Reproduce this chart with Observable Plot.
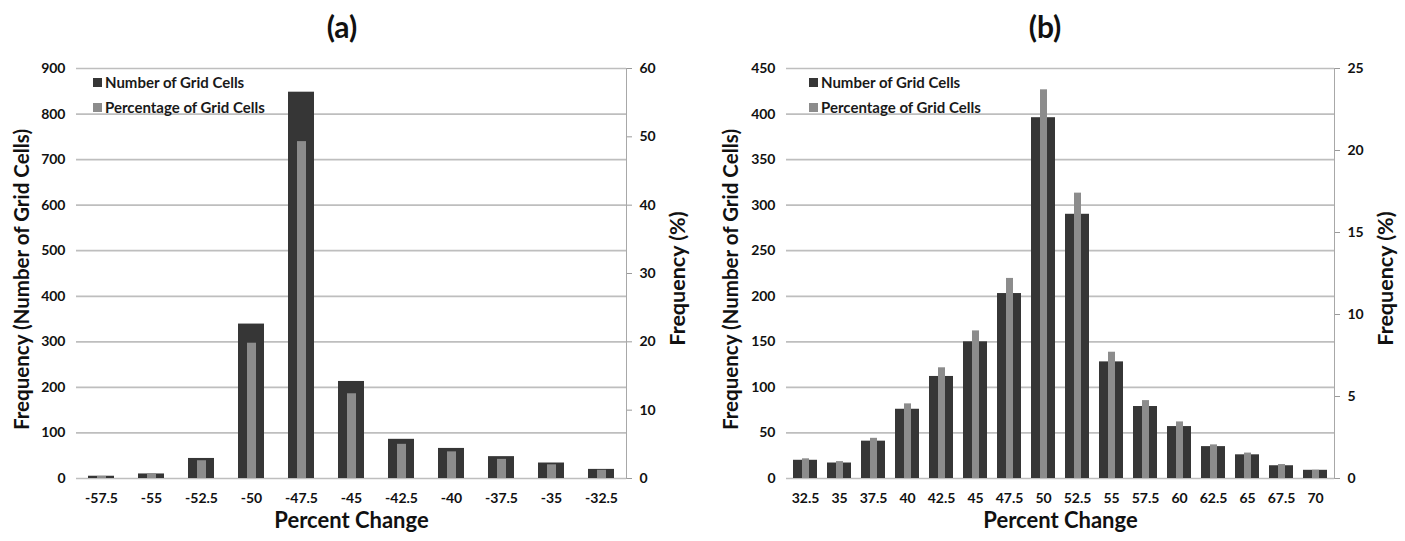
<!DOCTYPE html>
<html><head><meta charset="utf-8">
<script src="https://cdn.jsdelivr.net/npm/d3@7"></script>
<script src="https://cdn.jsdelivr.net/npm/@observablehq/plot@0.6"></script>
<style>
body{margin:0;background:#fff;font-family:Lato,"Open Sans",sans-serif;}
#root{position:relative;width:1405px;height:541px;overflow:hidden;background:#fff;}
.title{position:absolute;top:11px;font-size:30px;font-weight:bold;transform:translateX(-50%);line-height:1;color:#111;white-space:nowrap}
.layer{position:absolute;top:50px;}
.layer svg{background:transparent;max-width:none;}
.legend{position:absolute;font-size:15px;font-weight:bold;color:#1a1a1a;line-height:1}
.legend div{display:flex;align-items:center;height:14px;margin-bottom:11px;white-space:nowrap}
.legend span.sw{display:inline-block;width:9px;height:9px;margin-right:3px}
</style></head><body><div id="root"></div>
<script>
// ---- Panel (a) data ----
const catsA = ["-57.5","-55","-52.5","-50","-47.5","-45","-42.5","-40","-37.5","-35","-32.5"];
const countA = [5, 10, 44, 339, 848, 213, 86, 66, 48, 34, 20];
const pctA = [0.3, 0.6, 2.6, 19.8, 49.3, 12.4, 5.0, 3.9, 2.8, 2.0, 1.2];
const leftTicksA = [0,100,200,300,400,500,600,700,800,900];
const rightTicksA = [0,10,20,30,40,50,60];

// ---- Panel (b) data ----
const catsB = ["32.5","35","37.5","40","42.5","45","47.5","50","52.5","55","57.5","60","62.5","65","67.5","70"];
const countB = [20, 17, 41, 76, 112, 150, 203, 396, 290, 128, 79, 57, 35, 26, 14, 9];
const pctB = [1.2, 1.03, 2.45, 4.55, 6.75, 9.0, 12.2, 23.7, 17.4, 7.7, 4.75, 3.45, 2.05, 1.55, 0.85, 0.5];
const leftTicksB = [0,50,100,150,200,250,300,350,400,450];
const rightTicksB = [0,5,10,15,20,25];

const legendLabels = ["Number of Grid Cells", "Percentage of Grid Cells"];
const titles = ["(a)", "(b)"];
const xLabel = "Percent Change";
const leftLabel = "Frequency (Number of Grid Cells)";
const rightLabel = "Frequency (%)";

const DARK = "#363636", LIGHT = "#8c8c8c", GRID = "#bebebe";
const FONT = "Lato, 'Open Sans', sans-serif";

const root = document.getElementById("root");

function panel(cfg) {
  const {left, width, cats, counts, pcts, leftTicks, rightTicks, yMax, pMax,
         mL, mR, darkPad, lightPad, title, titleX, legendX} = cfg;
  const H = 491, mT = 18, mB = 63;
  const data = cats.map((c, i) => ({cat: c, count: counts[i], pct: pcts[i]}));

  const base = Plot.plot({
    width, height: H, marginTop: mT, marginBottom: mB, marginLeft: mL, marginRight: mR,
    style: {fontFamily: FONT, fontWeight: "bold", fontSize: "14px", color: "#111", background: "transparent"},
    x: {type: "band", domain: cats, paddingInner: darkPad, paddingOuter: darkPad / 2},
    y: {domain: [0, yMax]},
    marks: [
      Plot.gridY(leftTicks, {stroke: GRID, strokeOpacity: 1, strokeWidth: 1.7}),
      Plot.barY(data, {x: "cat", y: "count", fill: DARK}),
      Plot.axisY(leftTicks, {anchor: "left", tickSize: 0, tickPadding: 11, label: null, fill: "#111"}),
      Plot.axisX({tickSize: 0, tickPadding: 15, label: null, fill: "#111"}),
      Plot.text([xLabel], {frameAnchor: "bottom", dy: 49, fontSize: 22, fontWeight: "bold", fill: "#111", textAnchor: "middle"}),
      Plot.text([leftLabel], {frameAnchor: "left", rotate: -90, dx: -(mL - 22 - (cfg.leftShift || 0)), dy: 6, fontSize: 20.5, fontWeight: "bold", fill: "#111", textAnchor: "middle"})
    ]
  });

  const over = Plot.plot({
    width, height: H, marginTop: mT, marginBottom: mB, marginLeft: mL, marginRight: mR,
    style: {fontFamily: FONT, fontWeight: "bold", fontSize: "14px", color: "#111", background: "transparent"},
    x: {type: "band", domain: cats, paddingInner: lightPad, paddingOuter: lightPad / 2, axis: null},
    y: {domain: [0, pMax]},
    marks: [
      Plot.barY(data, {x: "cat", y: "pct", fill: LIGHT}),
      Plot.axisY(rightTicks, {anchor: "right", tickSize: 5, tickPadding: 8, label: null, stroke: "#9a9a9a", fill: "#111"}),
      Plot.frame({anchor: "right", stroke: "#a8a8a8"}),
      Plot.text([rightLabel], {frameAnchor: "right", rotate: -90, dx: 52, dy: 5, fontSize: 21.5, fontWeight: "bold", fill: "#111", textAnchor: "middle"})
    ]
  });

  const l1 = document.createElement("div");
  l1.className = "layer"; l1.style.left = left + "px"; l1.style.width = width + "px";
  l1.appendChild(base);
  const l2 = document.createElement("div");
  l2.className = "layer"; l2.style.left = left + "px"; l2.style.width = width + "px";
  l2.appendChild(over);
  root.appendChild(l1); root.appendChild(l2);

  const t = document.createElement("div");
  t.className = "title"; t.style.left = titleX + "px"; t.textContent = title;
  root.appendChild(t);

  const lg = document.createElement("div");
  lg.className = "legend"; lg.style.left = legendX + "px"; lg.style.top = "75px";
  [DARK, LIGHT].forEach((c, i) => {
    const row = document.createElement("div");
    const sw = document.createElement("span"); sw.className = "sw"; sw.style.background = c;
    row.appendChild(sw);
    row.appendChild(document.createTextNode(legendLabels[i]));
    lg.appendChild(row);
  });
  root.appendChild(lg);
}

panel({left: 0, width: 700, cats: catsA, counts: countA, pcts: pctA, leftTicks: leftTicksA, rightTicks: rightTicksA,
       yMax: 900, pMax: 60, mL: 76, mR: 74, darkPad: 0.48, lightPad: 0.83, title: titles[0], titleX: 342, legendX: 93});
panel({left: 700, width: 705, cats: catsB, counts: countB, pcts: pctB, leftTicks: leftTicksB, rightTicks: rightTicksB,
       yMax: 450, pMax: 25, mL: 86, mR: 71, darkPad: 0.3, lightPad: 0.8, title: titles[1], titleX: 1045, legendX: 809, leftShift: 9});
</script></body></html>
